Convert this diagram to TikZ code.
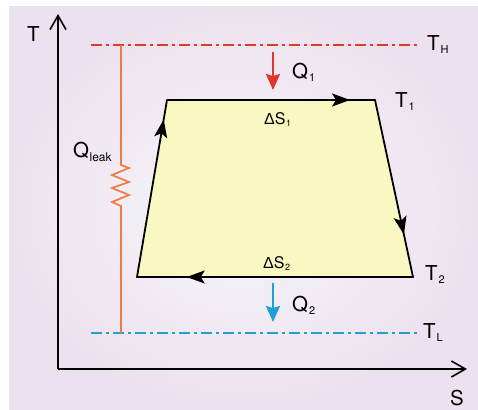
\documentclass[tikz,border=0pt]{standalone}
\usepackage{fontspec}
\setmainfont{TeX Gyre Heros}
\newfontfamily\deltafont{Liberation Sans}
\usepackage{tikz}
\usetikzlibrary{positioning,arrows.meta,decorations.markings}

\definecolor{hotred}{HTML}{E2382C}
\definecolor{coldblue}{HTML}{1F9FD4}
\definecolor{leakorange}{HTML}{EF7A45}
\definecolor{cycleyellow}{HTML}{FAF8C2}
\definecolor{bglav}{HTML}{ECE2EF}
\definecolor{bglight}{HTML}{F8F6F9}

\newcommand\lowsub[1]{\kern1pt\raisebox{-3pt}{\fontsize{11}{11}\selectfont #1}}
\newcommand\tinysub[1]{\kern0.5pt\raisebox{-2pt}{\fontsize{9}{9}\selectfont #1}}

\begin{document}
\begin{tikzpicture}[
			x=1pt, y=-1pt,
			lbl/.style={inner sep=0pt, anchor=base west, font=\fontsize{20.5}{20}\selectfont},
			dlbl/.style={inner sep=0pt, anchor=base west, font=\fontsize{16}{16}\selectfont},
			axis/.style={line width=1.6pt, -{Straight Barb[length=14pt,width=16pt,line width=1.6pt]}},
			level/.style={line width=2pt, dash pattern=on 11pt off 4pt on 3pt off 4pt},
			leak/.style={line width=1.7pt, leakorange, line join=miter},
			edge/.style={line width=1.8pt, line cap=round},
			flow/.style={postaction={decorate}, decoration={markings,
				mark=at position #1 with {\arrow{Stealth[length=18pt,width=13pt,inset=4pt]}}}},
			heat/.style={line width=2.2pt, -{Stealth[length=16pt,width=14pt,inset=2pt]}},
		]

		\useasboundingbox (0,0) rectangle (478,409);
		\fill[white] (0,0) rectangle (478,409);
		\shade[inner color=bglight, outer color=bglav] (9,7) rectangle (478,409);

		% axes
		\coordinate (origin) at (58,369);
		\coordinate (ttip) at (58,14);
		\coordinate (stip) at (467,369);
		\draw[axis] (origin) -- (ttip);
		\draw[axis] (origin) -- (stip);
		\node[lbl] (tname) at (27,42) {T};
		\node[lbl] (sname) at (450,405) {S};

		% reservoir levels
		\coordinate (thL) at (91,45);
		\coordinate (thR) at (417,45);
		\coordinate (tlL) at (91,333);
		\coordinate (tlR) at (417,333);
		\draw[level, hotred] (thL) -- (thR);
		\draw[level, coldblue] (tlL) -- (tlR);
		\node[lbl] (TH) at (427,51) {T\lowsub{H}};
		\node[lbl] (TL) at (423,338) {T\lowsub{L}};

		% leak with resistor
		\coordinate (leakT) at (121,45);
		\coordinate (leakB) at (121,333);
		\draw[leak] (leakT) -- (121,165) -- (129,168) -- (112,175) -- (129,182)
			-- (112,188) -- (129,195) -- (112,202) -- (121,206) -- (leakB);
		\node[lbl] (Qleak) at (73,157) {Q\kern0.5pt\raisebox{-4pt}{\fontsize{12}{12}\selectfont leak}};

		% cycle
		\coordinate (tl) at (167,100);
		\coordinate (tr) at (375,100);
		\coordinate (br) at (413,277);
		\coordinate (bl) at (137,277);
		\fill[cycleyellow] (tl) -- (tr) -- (br) -- (bl) -- cycle;
		\draw[edge, flow=0.88] (tl) -- (tr);
		\draw[edge, flow=0.76] (tr) -- (br);
		\draw[edge, flow=0.82] (br) -- (bl);
		\draw[edge, flow=0.89] (bl) -- (tl);

		\node[lbl] (T1) at (395,107) {T\lowsub{1}};
		\node[lbl] (T2) at (425,280) {T\lowsub{2}};
		\node[dlbl] (dS1) at (264,124) {{\deltafont Δ}S\tinysub{1}};
		\node[dlbl] (dS2) at (263,268) {{\deltafont Δ}S\tinysub{2}};

		% heat flows
		\coordinate (q1s) at (273,52);
		\coordinate (q1e) at (273,90);
		\coordinate (q2s) at (273,283);
		\coordinate (q2e) at (273,322);
		\draw[heat, hotred] (q1s) -- (q1e);
		\draw[heat, coldblue] (q2s) -- (q2e);
		\node[lbl] (Q1) at (292,78) {Q\lowsub{1}};
		\node[lbl] (Q2) at (292,311) {Q\lowsub{2}};

	\end{tikzpicture}
\end{document}
